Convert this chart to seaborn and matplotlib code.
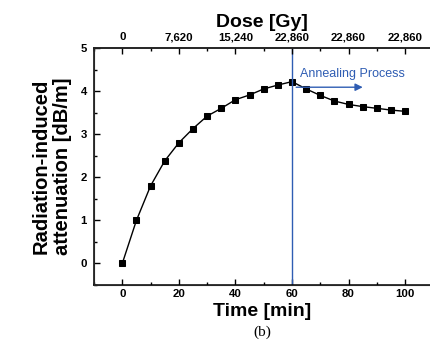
import matplotlib
matplotlib.use("Agg")
import matplotlib.pyplot as plt
import seaborn as sns
import pandas as pd
from matplotlib.ticker import MultipleLocator

time_min = [0, 5, 10, 15, 20, 25, 30, 35, 40, 45, 50, 55, 60,
            65, 70, 75, 80, 85, 90, 95, 100]
attenuation = [0.0, 1.0, 1.8, 2.38, 2.8, 3.13, 3.42, 3.6, 3.8, 3.91, 4.05, 4.14, 4.22,
               4.05, 3.9, 3.77, 3.69, 3.64, 3.6, 3.56, 3.53]
dose_tick_pos = [0, 20, 40, 60, 80, 100]
dose_tick_labels = ["0", "7,620", "15,240", "22,860", "22,860", "22,860"]

sns.set_style("ticks")
plt.rcParams["font.family"] = ["Liberation Sans", "DejaVu Sans"]
plt.rcParams["font.weight"] = "bold"
plt.rcParams["text.color"] = "black"
plt.rcParams["axes.labelcolor"] = "black"
plt.rcParams["xtick.color"] = "black"
plt.rcParams["ytick.color"] = "black"

W, H = 430, 344
fig = plt.figure(figsize=(W / 100, H / 100), dpi=100)
left, right, top, bottom = 94, 430, 48, 285
ax = fig.add_axes([left / W, (H - bottom) / H, (right - left) / W, (bottom - top) / H])

df = pd.DataFrame({"t": time_min, "a": attenuation})
sns.lineplot(data=df, x="t", y="a", ax=ax, color="black", linewidth=1.0,
             marker="s", markersize=4.6, markeredgecolor="black", markerfacecolor="black")

ax.set_xlim(-10, 108.8)
ax.set_ylim(-0.5, 5)
ax.xaxis.set_major_locator(MultipleLocator(20))
ax.xaxis.set_minor_locator(MultipleLocator(10))
ax.yaxis.set_major_locator(MultipleLocator(1))
ax.yaxis.set_minor_locator(MultipleLocator(0.5))
ax.tick_params(which="both", direction="in", width=1.0, labelsize=8.2, colors="black")
ax.tick_params(which="major", length=4)
ax.tick_params(axis="x", which="major", pad=3)
ax.tick_params(axis="y", which="major", pad=5)
ax.tick_params(which="minor", length=2.5)
for lab in ax.get_xticklabels() + ax.get_yticklabels():
    lab.set_fontweight("bold")
ax.spines["right"].set_visible(False)
for s in ["left", "bottom", "top"]:
    ax.spines[s].set_linewidth(1.1)
    ax.spines[s].set_color("black")

ax.set_xlabel("Time [min]", fontsize=14, fontweight="bold", labelpad=3, color="black")
ax.set_ylabel("Radiation-induced\nattenuation [dB/m]", fontsize=14.5, fontweight="bold",
              labelpad=6, linespacing=1.15, color="black")

ax2 = ax.twiny()
ax2.set_xlim(ax.get_xlim())
ax2.set_xticks(dose_tick_pos)
ax2.set_xticklabels(dose_tick_labels, fontweight="bold")
ax2.xaxis.set_minor_locator(MultipleLocator(10))
ax2.tick_params(which="both", direction="in", width=1.0, labelsize=8.2, colors="black")
ax2.tick_params(which="major", length=4, pad=4)
ax2.tick_params(which="minor", length=2.5)
ax2.spines["right"].set_visible(False)
ax2.spines["top"].set_linewidth(1.1)
ax2.set_xlabel("Dose [Gy]", fontsize=14, fontweight="bold", labelpad=4, color="black")

blue = "#2f5db3"
ax.axvline(60, color=blue, linewidth=1.0)
ax.annotate("", xy=(86, 4.09), xytext=(60.5, 4.09),
            arrowprops=dict(arrowstyle="-|>", color=blue, lw=1.0, mutation_scale=11))
ax.text(63, 4.4, "Annealing Process", color=blue, fontsize=9, fontweight="normal",
        va="center", ha="left")

fig.text(262 / W, 1 - 332 / H, "(b)", fontsize=11, fontweight="normal", color="black",
         family=["Liberation Serif", "DejaVu Serif"], ha="center", va="center")

fig.savefig("out.png", dpi=100)
